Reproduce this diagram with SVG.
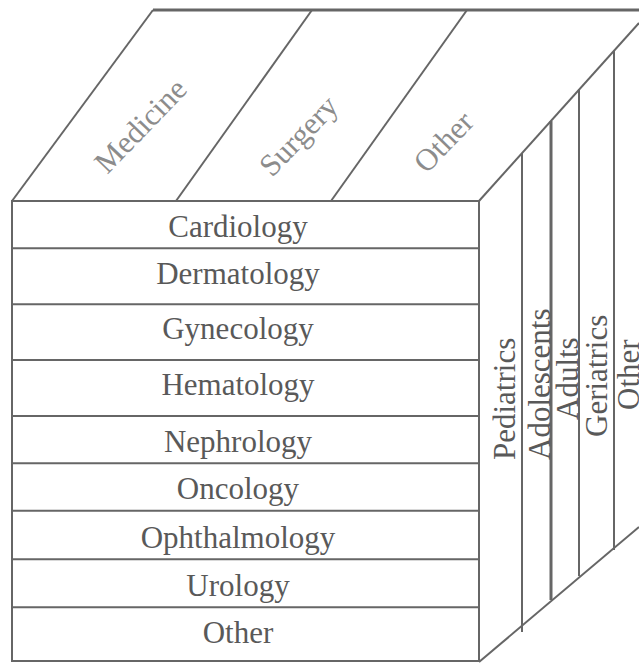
<svg xmlns="http://www.w3.org/2000/svg" width="639" height="663" viewBox="0 0 639 663">
  <style>
    .edge { stroke: #666666; stroke-width: 2; fill: none; stroke-linecap: butt; }
    .thick { stroke-width: 3; }
    .lbl { font-family: "Liberation Serif", "Times New Roman", serif; font-size: 31px; fill: #595959; }
    .front { text-anchor: middle; }
    .top { fill: #8c8c8c; text-anchor: middle; }
    .side { text-anchor: start; }
  </style>
  <rect width="639" height="663" fill="#ffffff"/>

  <!-- cube outline and face dividers -->
  <g id="connectors">
    <!-- top face -->
    <line class="edge thick" x1="153" y1="10" x2="639" y2="10"/>
    <line class="edge" x1="12" y1="201" x2="153" y2="10"/>
    <line class="edge" x1="176" y1="201" x2="312" y2="10"/>
    <line class="edge" x1="331" y1="201" x2="467" y2="10"/>
    <line class="edge" x1="479" y1="201" x2="639" y2="23"/>
    <!-- front face -->
    <rect class="edge" x="12" y="201" width="467" height="460"/>
    <line class="edge" x1="12" y1="248.3" x2="479" y2="248.3"/>
    <line class="edge" x1="12" y1="304.3" x2="479" y2="304.3"/>
    <line class="edge" x1="12" y1="360" x2="479" y2="360"/>
    <line class="edge" x1="12" y1="416" x2="479" y2="416"/>
    <line class="edge" x1="12" y1="463.3" x2="479" y2="463.3"/>
    <line class="edge" x1="12" y1="510.7" x2="479" y2="510.7"/>
    <line class="edge" x1="12" y1="559.3" x2="479" y2="559.3"/>
    <line class="edge" x1="12" y1="607.3" x2="479" y2="607.3"/>
    <!-- right face -->
    <line class="edge" x1="479" y1="662" x2="639" y2="527"/>
    <line class="edge" x1="522" y1="153" x2="522" y2="632"/>
    <line class="edge thick" x1="551" y1="121" x2="551" y2="600"/>
    <line class="edge" x1="579" y1="89" x2="579" y2="576"/>
    <line class="edge" x1="614" y1="51" x2="614" y2="550"/>
  </g>

  <!-- top face: categories -->
  <g id="top-medicine"><text class="lbl top" transform="translate(148,133) rotate(-46)">Medicine</text></g>
  <g id="top-surgery"><text class="lbl top" transform="translate(306,143) rotate(-46)">Surgery</text></g>
  <g id="top-other"><text class="lbl top" transform="translate(451,149) rotate(-46)">Other</text></g>

  <!-- front face: specialties -->
  <g id="row-cardiology"><text class="lbl front" x="238" y="237">Cardiology</text></g>
  <g id="row-dermatology"><text class="lbl front" x="238" y="284">Dermatology</text></g>
  <g id="row-gynecology"><text class="lbl front" x="238" y="339">Gynecology</text></g>
  <g id="row-hematology"><text class="lbl front" x="238" y="395">Hematology</text></g>
  <g id="row-nephrology"><text class="lbl front" x="238" y="452">Nephrology</text></g>
  <g id="row-oncology"><text class="lbl front" x="238" y="499">Oncology</text></g>
  <g id="row-ophthalmology"><text class="lbl front" x="238" y="548">Ophthalmology</text></g>
  <g id="row-urology"><text class="lbl front" x="238" y="596">Urology</text></g>
  <g id="row-other"><text class="lbl front" x="238" y="643">Other</text></g>

  <!-- right face: age groups -->
  <g id="side-pediatrics"><text class="lbl side" transform="translate(515,460) rotate(-90)">Pediatrics</text></g>
  <g id="side-adolescents"><text class="lbl side" transform="translate(550,460) rotate(-90)">Adolescents</text></g>
  <g id="side-adults"><text class="lbl side" transform="translate(578,420) rotate(-90)">Adults</text></g>
  <g id="side-geriatrics"><text class="lbl side" transform="translate(607,437) rotate(-90)">Geriatrics</text></g>
  <g id="side-other"><text class="lbl side" transform="translate(639,410) rotate(-90)">Other</text></g>
</svg>
